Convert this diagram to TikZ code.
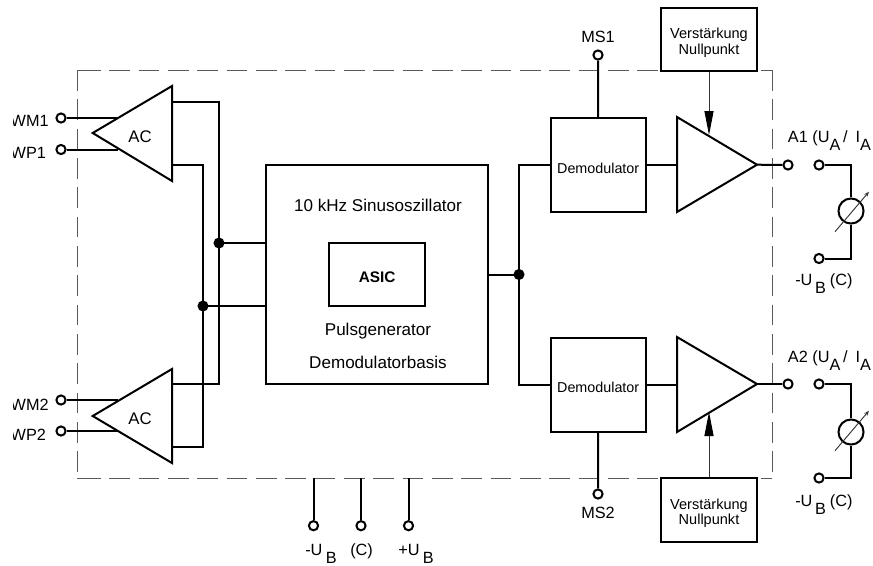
\documentclass[tikz,border=0pt]{standalone}
\usepackage{fontspec}
\setmainfont{Liberation Sans}
\usetikzlibrary{arrows.meta,calc}
\newcommand{\lowered}[1]{\raisebox{-6pt}{#1}}
\tikzset{
  wire/.style={line width=1.5pt,black,line join=miter},
  thinwire/.style={line width=0.7pt,black!80},
  border/.style={line width=0.75pt,black!65,dash pattern=on 15.4pt off 6.6pt},
  boxn/.style={draw,line width=1.5pt,fill=white,inner sep=0pt},
  term/.style={circle,draw,line width=1.5pt,fill=white,minimum size=6.9pt,inner sep=0pt},
  dotn/.style={circle,fill=black,minimum size=8.3pt,inner sep=0pt},
  meter/.style={circle,draw,line width=1.5pt,fill=white,minimum size=18.8pt,inner sep=0pt},
  lbl/.style={inner sep=0pt,font=\fontsize{12.2}{14}\selectfont},
  lblb/.style={lbl,anchor=base west},
  big/.style={inner sep=0pt,font=\fontsize{12.8}{15}\selectfont},
  small/.style={inner sep=0pt,align=center,font=\fontsize{10.9}{11.6}\selectfont},
  gain/.style={line width=0.7pt,black!80,-{Triangle[length=18pt,width=6.8pt,fill=black,color=black]}},
}
\begin{document}
\begin{tikzpicture}[x=0.75pt,y=-0.75pt]
\useasboundingbox (0,0) rectangle (873,565);
% dashed housing
\draw[border] (80,70) -- (661,70);
\draw[border] (77,70) -- (80,70);
\draw[border] (761,70) -- (772,70);
\draw[border] (80,478) -- (661,478);
\draw[border] (77,478) -- (80,478);
\draw[border] (761,478) -- (772,478);
\draw[border] (77,70) -- (77,478);
\draw[border] (772,70) -- (772,478);
% coordinates of the triangles
\coordinate (ac1tip) at (92.7,133);
\coordinate (ac1top) at (172,86);
\coordinate (ac1bot) at (172,181);
\coordinate (ac2tip) at (92.7,416);
\coordinate (ac2top) at (172,369);
\coordinate (ac2bot) at (172,463);
\coordinate (amp1top) at (677,117);
\coordinate (amp1bot) at (677,212);
\coordinate (amp1tip) at (757,164.7);
\coordinate (amp2top) at (677,337);
\coordinate (amp2bot) at (677,432);
\coordinate (amp2tip) at (757,384);
% blocks
\node[boxn,minimum width=165.9pt,minimum height=164.2pt] (main) at (377,274.5) {};
\node[boxn,minimum width=71.8pt,minimum height=47.2pt,text height=12pt,text depth=0pt,font=\fontsize{11.5}{14}\selectfont\bfseries] (asic) at (377.2,274.5) {ASIC};
\node[boxn,minimum width=71.2pt,minimum height=70.7pt,text height=12pt,text depth=0pt,font=\fontsize{10.75}{13}\selectfont] (dem1) at (598.2,165) {Demodulator};
\node[boxn,minimum width=71.2pt,minimum height=70.7pt,text height=12pt,text depth=0pt,font=\fontsize{10.75}{13}\selectfont] (dem2) at (598.2,384.7) {Demodulator};
\node[boxn,minimum width=72pt,minimum height=47.2pt] (gain1) at (709,39.5) {};
\node[boxn,minimum width=72pt,minimum height=47.8pt] (gain2) at (709,510) {};
\node[small] (gaintxt1) at (709,42.6) {Verstärkung\\Nullpunkt};
\node[small] (gaintxt2) at (709,513) {Verstärkung\\Nullpunkt};
\node[big] (t1) at (378,205.7) {10 kHz Sinusoszillator};
\node[big] (t2) at (378,331.5) {Pulsgenerator};
\node[big] (t3) at (378,362.5) {Demodulatorbasis};
% terminals
\node[term] (wm1) at (61,118) {};
\node[term] (wp1) at (61,149.5) {};
\node[term] (wm2) at (61,400) {};
\node[term] (wp2) at (61,431) {};
\node[term] (ms1) at (598,55) {};
\node[term] (ms2) at (598,494) {};
\node[term] (a1) at (788,165) {};
\node[term] (a2) at (788,384) {};
\node[term] (m1a) at (819,165) {};
\node[term] (m1b) at (819,258.5) {};
\node[term] (m2a) at (819,384) {};
\node[term] (m2b) at (819,478) {};
\node[term] (ubm) at (313.5,525.7) {};
\node[term] (c) at (361,525.7) {};
\node[term] (ubp) at (408.5,525.7) {};
% junctions
\coordinate (bus1) at (219,243);
\coordinate (bus2) at (203,306);
\coordinate (bus3) at (519,274.5);
% connectors
\draw[wire] (wm1) -- (118,118);
\draw[wire] (wp1) -- (118,149.5);
\draw[wire] (wm2) -- (118,400);
\draw[wire] (wp2) -- (118,431);
\draw[wire] (172,102) -| (bus1) |- (172,384);
\draw[wire] (172,165) -| (bus2) |- (172,447);
\draw[wire] (bus1) -- (bus1 -| main.west);
\draw[wire] (bus2) -- (bus2 -| main.west);
\draw[wire] (bus3 -| main.east) -- (bus3);
\draw[wire] (dem1.west) -| (bus3) |- (dem2.west);
\draw[wire] (dem1.east) -- (dem1.east -| amp1top);
\draw[wire] (dem2.east) -- (dem2.east -| amp2top);
\draw[wire] (ms1) -- (dem1.north);
\draw[wire] (ms2) -- (dem2.south);
\draw[wire] (amp1tip) -- (a1);
\draw[wire] (amp2tip) -- (a2);
\draw[wire] (ubm) -- (313.5,478);
\draw[wire] (c) -- (361,478);
\draw[wire] (ubp) -- (408.5,478);
\node[meter] (meter1) at (851,211) {};
\node[meter] (meter2) at (851,432) {};
\draw[wire] (m1a) -| (meter1.north);
\draw[wire] (m1b) -| (meter1.south);
\draw[wire] (m2a) -| (meter2.north);
\draw[wire] (m2b) -| (meter2.south);
\draw[thinwire,-{Stealth[length=4pt,width=3pt]}] (835,231.7) -- (869,191.7);
\draw[thinwire,-{Stealth[length=4pt,width=3pt]}] (835,450.7) -- (869,410.7);
\draw[gain] (gain1.south) -- (709,135);
\draw[gain] (gain2.north) -- (709,412);
% triangles
\draw[wire] (ac1tip) -- (ac1top) -- (ac1bot) -- cycle;
\draw[wire] (ac2tip) -- (ac2top) -- (ac2bot) -- cycle;
\draw[wire] (amp1top) -- (amp1tip) -- (amp1bot) -- cycle;
\draw[wire] (amp2top) -- (amp2tip) -- (amp2bot) -- cycle;
\node[dotn] (d1) at (bus1) {};
\node[dotn] (d2) at (bus2) {};
\node[dotn] (d3) at (bus3) {};
% labels
\node[lbl,font=\fontsize{12.6}{14}\selectfont] (ac1) at (140,136.5) {AC};
\node[lbl,font=\fontsize{12.6}{14}\selectfont] (ac2) at (140,419) {AC};
\node[lblb] (lwm1) at (10.4,126.7) {WM1};
\node[lblb] (lwp1) at (10.4,158) {WP1};
\node[lblb] (lwm2) at (10.4,410) {WM2};
\node[lblb] (lwp2) at (10.4,440) {WP2};
\fill[white] (0,0) rectangle (13,565);
\node[lbl] (lms1) at (598,37) {MS1};
\node[lbl] (lms2) at (598,513) {MS2};
\node[lblb] (la1) at (787.7,142.7) {A1 (U\lowered{A}\hspace{2pt}/\hspace{6pt}I\lowered{A}};
\node[lblb] (la2) at (787.7,362.7) {A2 (U\lowered{A}\hspace{2pt}/\hspace{6pt}I\lowered{A}};
\node[lblb] (lub1) at (795,285) {-U\hspace{2pt}\lowered{B}\hspace{3pt}(C)};
\node[lblb] (lub2) at (795,506.7) {-U\hspace{2pt}\lowered{B}\hspace{3pt}(C)};
\node[lblb] (lubm) at (305,555) {-U\hspace{2.5pt}\lowered{B}};
\node[lblb] (lc) at (350,555) {(C)};
\node[lblb] (lubp) at (398,555) {+U\hspace{2.5pt}\lowered{B}};
\end{tikzpicture}
\end{document}
